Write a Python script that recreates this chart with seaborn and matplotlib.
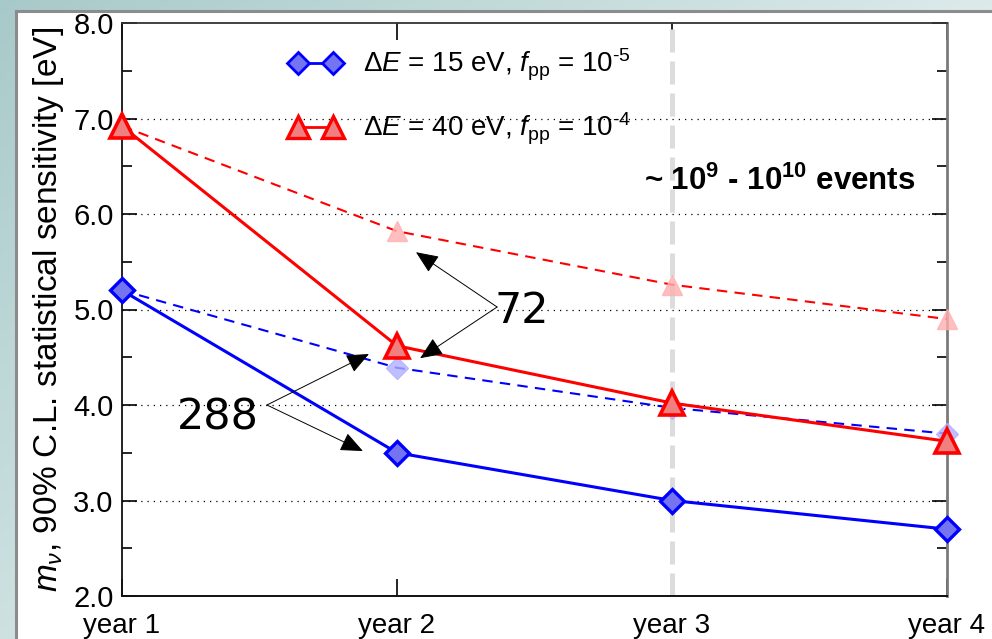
import numpy as np
import pandas as pd
import matplotlib
matplotlib.use("Agg")
import matplotlib.pyplot as plt
import seaborn as sns
from matplotlib.lines import Line2D
from matplotlib.patches import Rectangle, FancyArrowPatch
from matplotlib.ticker import MultipleLocator

# ---- data -----------------------------------------------------------------
years = ["year 1", "year 2", "year 3", "year 4"]
# 90% C.L. statistical sensitivity on m_nu [eV]
sens_de15 = [5.20, 3.50, 3.00, 2.70]      # dE = 15 eV, f_pp = 1e-5 (solid)
sens_de40 = [6.92, 4.62, 4.02, 3.62]      # dE = 40 eV, f_pp = 1e-4 (solid)
sens_de15_alt = [5.20, 4.39, 3.97, 3.70]  # dashed companion of dE = 15 eV
sens_de40_alt = [6.92, 5.82, 5.26, 4.90]  # dashed companion of dE = 40 eV
y_ticks = [2.0, 3.0, 4.0, 5.0, 6.0, 7.0, 8.0]

label_15 = r"$\Delta$$E$ = 15 eV, $f_{\rm pp}$ = 10$^{\text{-5}}$"
label_40 = r"$\Delta$$E$ = 40 eV, $f_{\rm pp}$ = 10$^{\text{-4}}$"
events_text = r"~ $\mathbf{10^{9}}$ - $\mathbf{10^{10}}$ events"

x_idx = np.arange(len(years))
df = pd.DataFrame({
    "x": np.tile(x_idx, 4),
    "value": sens_de15 + sens_de40 + sens_de15_alt + sens_de40_alt,
    "series": ["de15"] * 4 + ["de40"] * 4 + ["de15_alt"] * 4 + ["de40_alt"] * 4,
})

# ---- style ----------------------------------------------------------------
sns.set_style("ticks")
plt.rcParams["font.family"] = ["Liberation Sans", "DejaVu Sans"]
plt.rcParams.update({
    "mathtext.fontset": "custom",
    "mathtext.rm": "Liberation Sans",
    "mathtext.it": "Liberation Sans:italic",
    "mathtext.bf": "Liberation Sans:bold",
    "mathtext.sf": "Liberation Sans",
    "text.color": "black",
    "axes.labelcolor": "black",
    "xtick.color": "black",
    "ytick.color": "black",
    "xtick.labelcolor": "black",
    "ytick.labelcolor": "black",
})

BLUE = "#0000ff"
RED = "#ff0000"
W, H = 992, 639
fig = plt.figure(figsize=(W / 100, H / 100), dpi=100)

# slide-style backdrop: soft teal gradient with a white panel
bg = fig.add_axes([0, 0, 1, 1], zorder=-10)
bg.set_axis_off()
gx, gy = np.meshgrid(np.linspace(0, 1, 300), np.linspace(0, 1, 200))
t = np.clip(0.75 * gx + 0.55 * gy, 0, 1)[..., None]
c0 = np.array([0.66, 0.79, 0.79])
c1 = np.array([0.93, 0.96, 0.96])
bg.imshow(c0 + (c1 - c0) * t, extent=[0, W, H, 0], aspect="auto")
bg.set_xlim(0, W)
bg.set_ylim(H, 0)
bg.add_patch(Rectangle((16, 11), W, H, facecolor="white",
                       edgecolor="#8c8c8c", lw=2.2))

ax = fig.add_axes([122 / W, 43 / H, 825 / W, 573 / H])
ax.set_facecolor("white")

# marker for the vertical reference year
ax.axvline(2, color="#dcdcdc", lw=3.6, dashes=(4.6, 1.8), zorder=1)

# dashed companion curves with faint markers
for key, col, mk, ms, fc in [("de40_alt", RED, "^", 15, "#ffb0b0"),
                             ("de15_alt", BLUE, "D", 11, "#b0b0ff")]:
    sub = df[df.series == key]
    sns.lineplot(data=sub, x="x", y="value", ax=ax, color=col, lw=1.5,
                 dashes=False, linestyle=(0, (5, 3.5)), zorder=3,
                 legend=False, errorbar=None)
    ax.plot(sub.x.values[1:], sub.value.values[1:], ls="none", marker=mk,
            ms=ms, mfc=fc, mec=fc, mew=1.0, alpha=0.8, zorder=3,
            clip_on=False)

# solid curves
for key, col, mk, ms, fc, mew in [("de15", BLUE, "D", 12, "#7474f0", 2.4),
                                  ("de40", RED, "^", 17, "#f08080", 2.6)]:
    sub = df[df.series == key]
    sns.lineplot(data=sub, x="x", y="value", ax=ax, color=col, lw=2.2,
                 marker=mk, markersize=ms, markerfacecolor=fc,
                 markeredgecolor=col, markeredgewidth=mew, zorder=5,
                 legend=False, errorbar=None, clip_on=False)

# axes, ticks, grid
ax.set_xlim(0, 3)
ax.set_ylim(2, 8)
ax.set_xticks(x_idx)
ax.set_xticklabels(years)
ax.set_yticks(y_ticks)
ax.set_yticklabels([f"{v:.1f}" for v in y_ticks])
ax.yaxis.set_minor_locator(MultipleLocator(0.5))
ax.tick_params(axis="both", which="both", direction="in", top=True,
               right=True, colors="black")
ax.tick_params(axis="x", which="major", length=12, width=1.2,
               labelsize=20, pad=12.5)
ax.tick_params(axis="y", which="major", length=11, width=1.2,
               labelsize=21, pad=6)
ax.tick_params(axis="y", which="minor", length=7, width=1.2)
ax.tick_params(axis="x", which="minor", length=0)
for gy_val in y_ticks[1:-1]:
    ax.axhline(gy_val, color="black", lw=0.9, dashes=(1, 4), zorder=2)
for side, col, lw in [("left", "#111111", 1.3), ("bottom", "#111111", 1.4),
                      ("top", "#333333", 1.3), ("right", "#7a7a7a", 2.0)]:
    ax.spines[side].set_color(col)
    ax.spines[side].set_linewidth(lw)
    ax.spines[side].set_visible(True)

ax.set_xlabel("")
ax.set_ylabel(r"$m_\nu$, 90% C.L. statistical sensitivity [eV]",
              fontsize=24, labelpad=5)

# legend with two markers per entry
handles = [
    Line2D([], [], color=BLUE, lw=2, marker="D", ms=11, mfc="#7474f0",
           mec=BLUE, mew=2),
    Line2D([], [], color=RED, lw=2, marker="^", ms=16, mfc="#f08080",
           mec=RED, mew=2.4),
]
ax.legend(handles, [label_15, label_40], numpoints=2, frameon=False,
          loc="upper left", bbox_to_anchor=(0.203, 0.958), borderpad=0,
          borderaxespad=0, handlelength=1.85, handletextpad=0.8,
          labelspacing=1.0, fontsize=20)

ax.text(2.393, 6.34, events_text, fontsize=22.5, fontweight="bold",
        ha="center", va="center", zorder=6)

# multiplicity annotations with arrows
arrow_kw = dict(arrowstyle="-|>,head_length=0.7,head_width=0.3",
                mutation_scale=20, color="black", lw=0.7,
                shrinkA=0, shrinkB=0, zorder=7)
ax.text(1.455, 4.984, "72", fontsize=31, ha="center", va="center",
        family="DejaVu Sans", zorder=7)
for tip in [(1.069, 5.60), (1.084, 4.49)]:
    ax.add_patch(FancyArrowPatch((1.364, 5.026), tip, **arrow_kw))
ax.text(0.349, 3.864, "288", fontsize=31, ha="center", va="center",
        family="DejaVu Sans", zorder=7)
for tip in [(0.898, 4.534), (0.876, 3.518)]:
    ax.add_patch(FancyArrowPatch((0.527, 4.0), tip, **arrow_kw))

fig.savefig("out.png", dpi=100)
